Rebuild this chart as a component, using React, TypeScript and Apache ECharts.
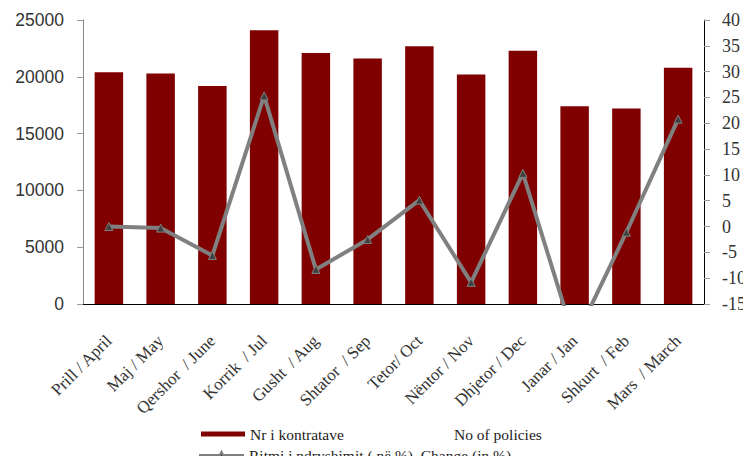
import React, { useEffect, useRef } from "react";
import * as echarts from "echarts";

const categories = [
  "Prill / April",
  "Maj / May",
  "Qershor  / June",
  "Korrik  / Jul",
  "Gusht  / Aug",
  "Shtator  / Sep",
  "Tetor/ Oct",
  "Nëntor / Nov",
  "Dhjetor / Dec",
  "Janar / Jan",
  "Shkurt  / Feb",
  "Mars  / March",
];
const contracts = [20400, 20300, 19200, 24100, 22100, 21600, 22700, 20200, 22300, 17400, 17200, 20800];
const changePct = [0, -0.3, -5.6, 25.3, -8.3, -2.5, 5.1, -10.8, 10.3, -22.0, -1.1, 20.8];
const leftTicks = { min: 0, max: 25000, interval: 5000 };
const rightTicks = { min: -15, max: 40, interval: 5 };

const barName = "Nr i kontratave";
const barName2 = "No of policies";
const lineName = "Ritmi i ndryshimit ( në %)  Change (in %)";

const serif = "Liberation Serif";
const sans = "Liberation Sans";

export default function App() {
  const ref = useRef<HTMLDivElement>(null);
  useEffect(() => {
    if (!ref.current) return;
    const chart = echarts.init(ref.current, undefined, { renderer: "svg" });
    const legendText = {
      fontFamily: serif,
      fontSize: 15.5,
      color: "#222",
      rich: {
        a: { width: 204, fontFamily: serif, fontSize: 15.5, color: "#222" },
        b: { fontFamily: serif, fontSize: 15.5, color: "#222" },
      },
    };
    chart.setOption({
      animation: false,
      backgroundColor: "#ffffff",
      grid: { left: 83, right: 47, top: 20, bottom: 160 },
      legend: [
        {
          left: 201,
          top: 426,
          padding: 0,
          itemWidth: 44,
          itemHeight: 5,
          textStyle: legendText,
          formatter: () => "{a|" + barName + "}{b|" + barName2 + "}",
          data: [{ name: barName, icon: "rect", itemStyle: { color: "#800000" } }],
        },
        {
          left: 198,
          top: 447,
          padding: 0,
          itemWidth: 45,
          itemHeight: 8,
          textStyle: legendText,
          data: [{ name: lineName }],
        },
      ],
      xAxis: {
        type: "category",
        data: categories,
        axisLine: { lineStyle: { color: "#000", width: 1 } },
        axisTick: { length: 6, lineStyle: { color: "#999" } },
        axisLabel: {
          rotate: 45,
          interval: 0,
          fontFamily: serif,
          fontSize: 17,
          color: "#333",
          margin: 34,
        },
      },
      yAxis: [
        {
          type: "value",
          min: leftTicks.min,
          max: leftTicks.max,
          interval: leftTicks.interval,
          splitLine: { show: false },
          axisLine: { show: true, lineStyle: { color: "#888" } },
          axisTick: { show: true, length: 6, lineStyle: { color: "#999" } },
          axisLabel: {
            fontFamily: sans,
            fontSize: 17.5,
            color: "#333",
            margin: 19,
            formatter: (v: number) => String(v),
          },
        },
        {
          type: "value",
          position: "right",
          min: rightTicks.min,
          max: rightTicks.max,
          interval: rightTicks.interval,
          splitLine: { show: false },
          axisLine: { show: true, lineStyle: { color: "#000" } },
          axisTick: { show: true, length: 6, lineStyle: { color: "#999" } },
          axisLabel: {
            fontFamily: serif,
            fontSize: 18,
            color: "#333",
            margin: 18,
            formatter: (v: number) => String(v),
          },
        },
      ],
      series: [
        {
          name: barName,
          type: "bar",
          data: contracts,
          barWidth: "55%",
          itemStyle: { color: "#800000" },
          yAxisIndex: 0,
        },
        {
          name: lineName,
          type: "line",
          data: changePct,
          yAxisIndex: 1,
          clip: true,
          symbol: "triangle",
          symbolSize: 8,
          lineStyle: { color: "#808080", width: 4 },
          itemStyle: { color: "#404040", borderColor: "#808080", borderWidth: 1 },
        },
      ],
    });
    return () => chart.dispose();
  }, []);
  return <div ref={ref} style={{ width: 751, height: 464, margin: -8 }} />;
}
